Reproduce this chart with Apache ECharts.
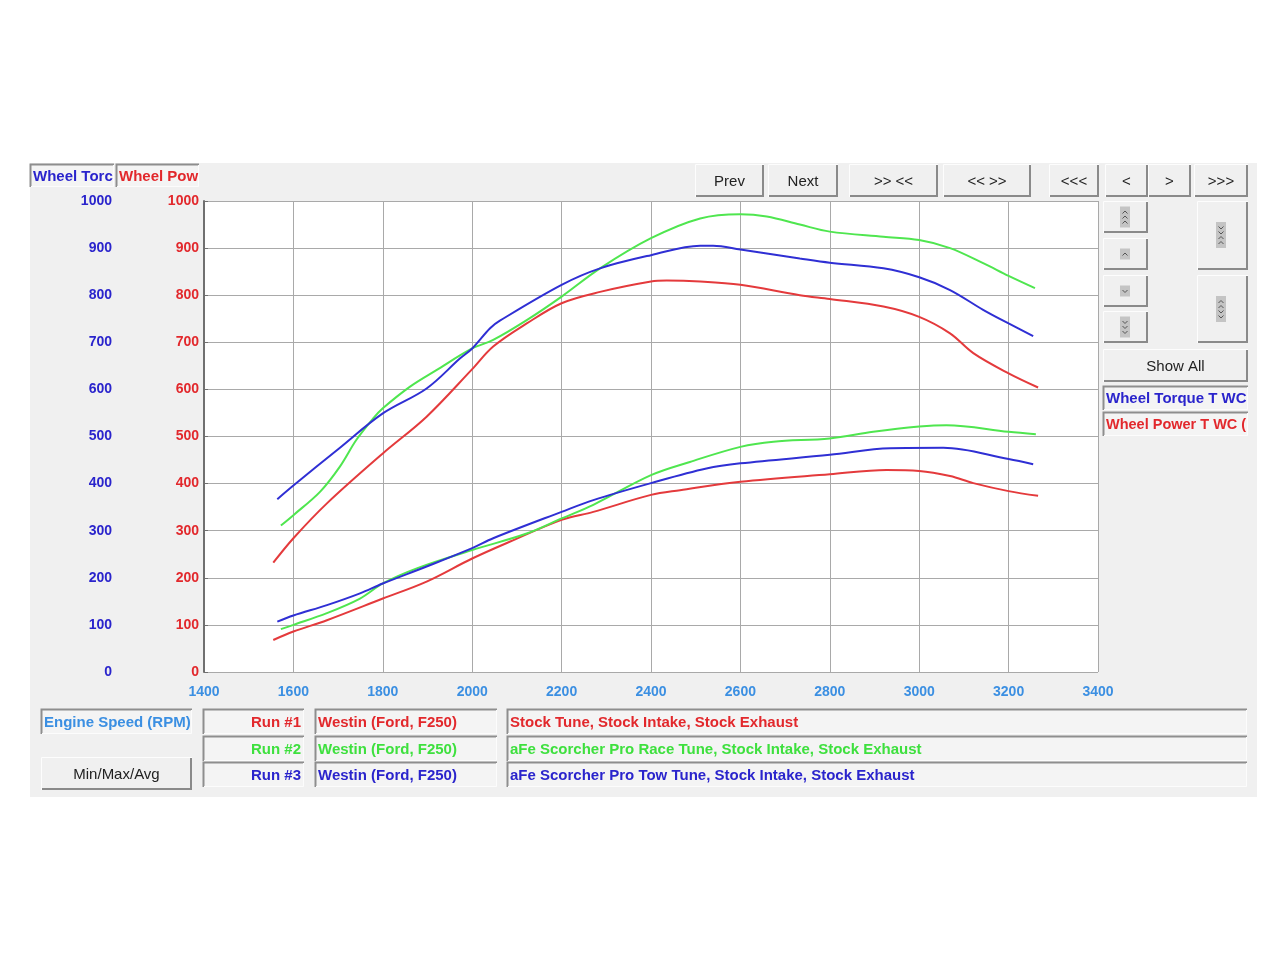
<!DOCTYPE html>
<html>
<head>
<meta charset="utf-8">
<style>
html, body { margin: 0; padding: 0; background: #fff; }
#chart { width: 1280px; height: 960px; }
</style>
<script src="https://cdn.jsdelivr.net/npm/echarts@6/dist/echarts.min.js"></script>
</head>
<body>
<div id="chart"></div>
<script>
// dyno runs, [rpm, value]
const run1Torque = [[1555,232],[1600,284],[1675,358],[1800,464],[1898,542],[2000,643],[2047,691],[2122,740],[2200,783],[2286,807],[2400,829],[2435,831],[2510,829],[2600,822],[2733,800],[2800,792],[2920,776],[3000,754],[3069,719],[3121,677],[3200,634],[3266,604]]
const run2Torque = [[1572,311],[1600,333],[1660,383],[1704,436],[1741,493],[1779,539],[1800,560],[1861,606],[1920,641],[2000,687],[2047,705],[2122,747],[2200,797],[2286,857],[2400,921],[2510,963],[2600,972],[2659,967],[2733,950],[2800,935],[2920,924],[3000,917],[3069,900],[3143,868],[3200,841],[3259,815]]
const run3Torque = [[1564,367],[1600,396],[1700,473],[1800,549],[1898,602],[1973,666],[2000,687],[2040,730],[2062,746],[2200,822],[2286,857],[2400,885],[2510,905],[2539,905],[2600,897],[2733,878],[2800,869],[2920,857],[3000,838],[3069,811],[3143,769],[3200,740],[3255,713]]

const run1Power = [[1555,68],[1600,86],[1675,110],[1800,156],[1898,192],[2000,241],[2085,277],[2200,323],[2271,340],[2400,376],[2465,386],[2600,404],[2800,420],[2927,429],[3000,427],[3069,416],[3121,401],[3200,384],[3266,374]]
const run2Power = [[1572,91],[1600,100],[1675,125],[1749,156],[1800,188],[1876,220],[2000,259],[2122,294],[2200,326],[2271,355],[2400,418],[2487,446],[2600,478],[2674,489],[2800,496],[2897,510],[3000,521],[3061,524],[3200,510],[3261,505]]
const run3Power = [[1564,107],[1600,120],[1675,142],[1749,167],[1800,188],[1898,224],[2000,263],[2047,284],[2200,340],[2271,365],[2400,401],[2524,432],[2600,443],[2800,461],[2935,475],[3054,476],[3200,452],[3255,441]]

const runLabels = ['Run #1', 'Run #2', 'Run #3']
const vehicles = ['Westin (Ford, F250)', 'Westin (Ford, F250)', 'Westin (Ford, F250)']
const descriptions = [
  'Stock Tune, Stock Intake, Stock Exhaust',
  'aFe Scorcher Pro Race Tune, Stock Intake, Stock Exhaust',
  'aFe Scorcher Pro Tow Tune, Stock Intake, Stock Exhaust'
]
const topButtons = ['Prev', 'Next', '>> <<', '<< >>', '<<<', '<', '>', '>>>']

const FONT = '"Liberation Sans", Arial, sans-serif'
const RED = '#e2282c'
const GREEN = '#3ee03e'
const BLUE = '#2a24cc'
const LIGHTBLUE = '#3b8fe2'
const LINE_RED = '#e43a3c'
const LINE_GREEN = '#4fe64f'
const LINE_BLUE = '#2f2fd4'

function sunkenBox(x, y, w, h, text, color, align, size) {
  const children = [
    { type: 'rect', shape: { x: 0, y: 0, width: w, height: h }, style: { fill: '#f4f4f4' } },
    { type: 'polyline', shape: { points: [[0.5, h], [0.5, 0.5], [w, 0.5]] }, style: { stroke: '#8e8e8e', lineWidth: 2, fill: null } },
    { type: 'polyline', shape: { points: [[1, h - 0.5], [w - 0.5, h - 0.5], [w - 0.5, 1]] }, style: { stroke: '#fcfcfc', lineWidth: 1, fill: null } }
  ]
  if (text) {
    children.push({
      type: 'text', x: align === 'right' ? w - 3 : 3, y: h / 2 + 1,
      style: { text: text, fill: color, font: `bold ${size || 15}px ${FONT}`, textAlign: align || 'left', textVerticalAlign: 'middle' }
    })
  }
  return { type: 'group', x: x, y: y, children: children }
}

function button(x, y, w, h, text, extra) {
  const children = [
    { type: 'rect', shape: { x: 0, y: 0, width: w, height: h }, style: { fill: '#f0f0f0' } },
    { type: 'polyline', shape: { points: [[0.5, h], [0.5, 0.5], [w, 0.5]] }, style: { stroke: '#fdfdfd', lineWidth: 1, fill: null } },
    { type: 'polyline', shape: { points: [[1, h - 1], [w - 1, h - 1], [w - 1, 1]] }, style: { stroke: '#8a8a8a', lineWidth: 2, fill: null } }
  ]
  if (text) {
    children.push({
      type: 'text', x: w / 2, y: h / 2 + 1,
      style: { text: text, fill: '#222', font: `15px ${FONT}`, textAlign: 'center', textVerticalAlign: 'middle' }
    })
  }
  return { type: 'group', x: x, y: y, children: children.concat(extra || []) }
}

// small grey icon with chevrons; dirs: list of 'u' / 'd' from top to bottom
function icon(cx, cy, dirs) {
  const h = dirs.length * 5 + 6
  const els = [{ type: 'rect', shape: { x: cx - 5, y: cy - h / 2, width: 10, height: h }, style: { fill: '#c4c4c4' } }]
  dirs.forEach((d, i) => {
    const yy = cy - h / 2 + 5.5 + i * 5
    const pts = d === 'u' ? [[cx - 2.5, yy + 1.5], [cx, yy - 1], [cx + 2.5, yy + 1.5]] : [[cx - 2.5, yy - 1], [cx, yy + 1.5], [cx + 2.5, yy - 1]]
    els.push({ type: 'polyline', shape: { points: pts }, style: { stroke: '#555', lineWidth: 1, fill: null } })
  })
  return els
}

const graphics = []
graphics.push({ type: 'rect', z: -10, shape: { x: 30, y: 163, width: 1227, height: 634 }, style: { fill: '#f0f0f0' } })

// axis title tabs
graphics.push(sunkenBox(30, 164, 84, 23, 'Wheel Torc', BLUE))
graphics.push(sunkenBox(116, 164, 83, 23, 'Wheel Pow', RED))

// top navigation buttons
const btnX = [695, 768, 849, 943, 1049, 1105, 1148, 1194]
const btnW = [69, 70, 89, 88, 50, 43, 43, 54]
topButtons.forEach((t, i) => graphics.push(button(btnX[i], 164, btnW[i], 33, t)))

// side scroll buttons
graphics.push(button(1103, 201, 45, 32, '', icon(22, 16, ['u', 'u', 'u'])))
graphics.push(button(1103, 238, 45, 32, '', icon(22, 16, ['u'])))
graphics.push(button(1103, 275, 45, 32, '', icon(22, 16, ['d'])))
graphics.push(button(1103, 311, 45, 32, '', icon(22, 16, ['d', 'd', 'd'])))
graphics.push(button(1197, 201, 51, 69, '', icon(24, 34, ['d', 'd', 'u', 'u'])))
graphics.push(button(1197, 275, 51, 68, '', icon(24, 34, ['u', 'u', 'd', 'd'])))
graphics.push(button(1103, 349, 145, 33, 'Show All'))
graphics.push(sunkenBox(1103, 386, 145, 24, 'Wheel Torque T WC', BLUE))
graphics.push(sunkenBox(1103, 412, 145, 24, 'Wheel Power T WC (', RED, 'left', 14.5))

// bottom run table
graphics.push(sunkenBox(41, 709, 151, 25, 'Engine Speed (RPM)', LIGHTBLUE))
graphics.push(button(41, 757, 151, 33, 'Min/Max/Avg'))
const runColors = [RED, GREEN, BLUE]
const rowY = [709, 736, 762]
runLabels.forEach((r, i) => {
  graphics.push(sunkenBox(203, rowY[i], 101, 25, r, runColors[i], 'right'))
  graphics.push(sunkenBox(315, rowY[i], 182, 25, vehicles[i], runColors[i]))
  graphics.push(sunkenBox(507, rowY[i], 740, 25, descriptions[i], runColors[i]))
})

function line(name, data, color, axis) {
  return {
    name: name, type: 'line', data: data, yAxisIndex: axis,
    symbol: 'none', smooth: 0.35,
    lineStyle: { color: color, width: 2 },
    itemStyle: { color: color }
  }
}

const plain = v => String(v)

const chart = echarts.init(document.getElementById('chart'))
chart.setOption({
  backgroundColor: '#fff',
  animation: false,
  grid: { left: 204, top: 201, width: 894, height: 471, show: true, backgroundColor: '#fff', borderWidth: 0 },
  xAxis: {
    type: 'value', min: 1400, max: 3400, interval: 200,
    axisLine: { show: false }, axisTick: { show: false },
    splitLine: { show: true, lineStyle: { color: '#a9a9a9', width: 1 } },
    axisLabel: { color: LIGHTBLUE, fontWeight: 'bold', fontSize: 14, fontFamily: 'Liberation Sans', margin: 13, formatter: plain }
  },
  yAxis: [
    {
      type: 'value', min: 0, max: 1000, interval: 100, position: 'left', offset: 87,
      axisLine: { show: false }, axisTick: { show: false }, splitLine: { show: false },
      axisLabel: { color: BLUE, fontWeight: 'bold', fontSize: 14, fontFamily: 'Liberation Sans', margin: 5, formatter: plain }
    },
    {
      type: 'value', min: 0, max: 1000, interval: 100, position: 'left', offset: 0,
      axisLine: { show: true, lineStyle: { color: '#707070', width: 2 } },
      axisTick: { show: true, inside: true, length: 4, lineStyle: { color: '#707070' } },
      splitLine: { show: true, lineStyle: { color: '#a9a9a9', width: 1 } },
      axisLabel: { color: RED, fontWeight: 'bold', fontSize: 14, fontFamily: 'Liberation Sans', margin: 5, formatter: plain }
    }
  ],
  graphic: graphics,
  series: [
    line('Run #1 Wheel Torque', run1Torque, LINE_RED, 0),
    line('Run #2 Wheel Torque', run2Torque, LINE_GREEN, 0),
    line('Run #3 Wheel Torque', run3Torque, LINE_BLUE, 0),
    line('Run #1 Wheel Power', run1Power, LINE_RED, 1),
    line('Run #2 Wheel Power', run2Power, LINE_GREEN, 1),
    line('Run #3 Wheel Power', run3Power, LINE_BLUE, 1)
  ]
})
</script>
</body>
</html>
